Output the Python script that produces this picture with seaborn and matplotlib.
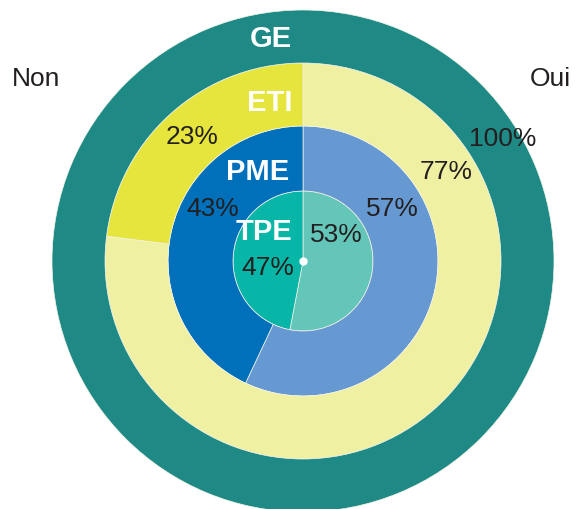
import matplotlib
matplotlib.use("Agg")
import matplotlib.pyplot as plt
import seaborn as sns

# data (share answering Oui / Non, by company size)
rings = ["TPE", "PME", "ETI", "GE"]
oui = [53, 57, 77, 100]
non = [47, 43, 23, 0]

col_oui = ["#64c5b9", "#6699d1", "#eff0a1", "#1f8a85"]
col_non = ["#08b6a7", "#0070bb", "#e5e53e", "#1f8a85"]
radii = [70, 135, 198, 251]
inner = [0, 70, 135, 198]

sns.set_style("white")
plt.rcParams["font.family"] = ["Liberation Sans", "DejaVu Sans"]

fig = plt.figure(figsize=(5.84, 5.09), dpi=100)
ax = fig.add_axes([0, 0, 1, 1])

for i, name in enumerate(rings):
    vals = [oui[i], non[i]] if non[i] > 0 else [oui[i]]
    cols = [col_oui[i], col_non[i]][:len(vals)]
    ax.pie(vals, colors=cols, radius=radii[i], startangle=90, counterclock=False,
           wedgeprops=dict(width=radii[i] - inner[i], linewidth=0.5, edgecolor="#f4f4e8"))

ax.plot(0, 0, "o", color="white", ms=5, zorder=5)

# labels (pixel positions relative to centre)
cx, cy = 303, 261
def put(px, py, s, **kw):
    ax.text(px - cx, cy - py, s, ha="center", va="center", **kw)

dark = "#231f20"
put(36, 79, "Non", fontsize=19, color=dark)
put(550, 79, "Oui", fontsize=19, color=dark)

for (px, py, s) in [(271, 39, "GE"), (270, 103, "ETI"), (258, 172, "PME"), (264, 232, "TPE")]:
    put(px, py, s, fontsize=21, color="white", fontweight="bold")

pcts = [(268, 268, f"{non[0]}%"), (336, 235, f"{oui[0]}%"),
        (213, 209, f"{non[1]}%"), (392, 209, f"{oui[1]}%"),
        (192, 137, f"{non[2]}%"), (446, 172, f"{oui[2]}%"),
        (503, 139, f"{oui[3]}%")]
for px, py, s in pcts:
    put(px, py, s, fontsize=19, color=dark)

ax.set_xlim(-cx, 584 - cx)
ax.set_ylim(cy - 509, cy)
ax.set_aspect("equal")
ax.axis("off")

fig.savefig("out.png", dpi=100)
